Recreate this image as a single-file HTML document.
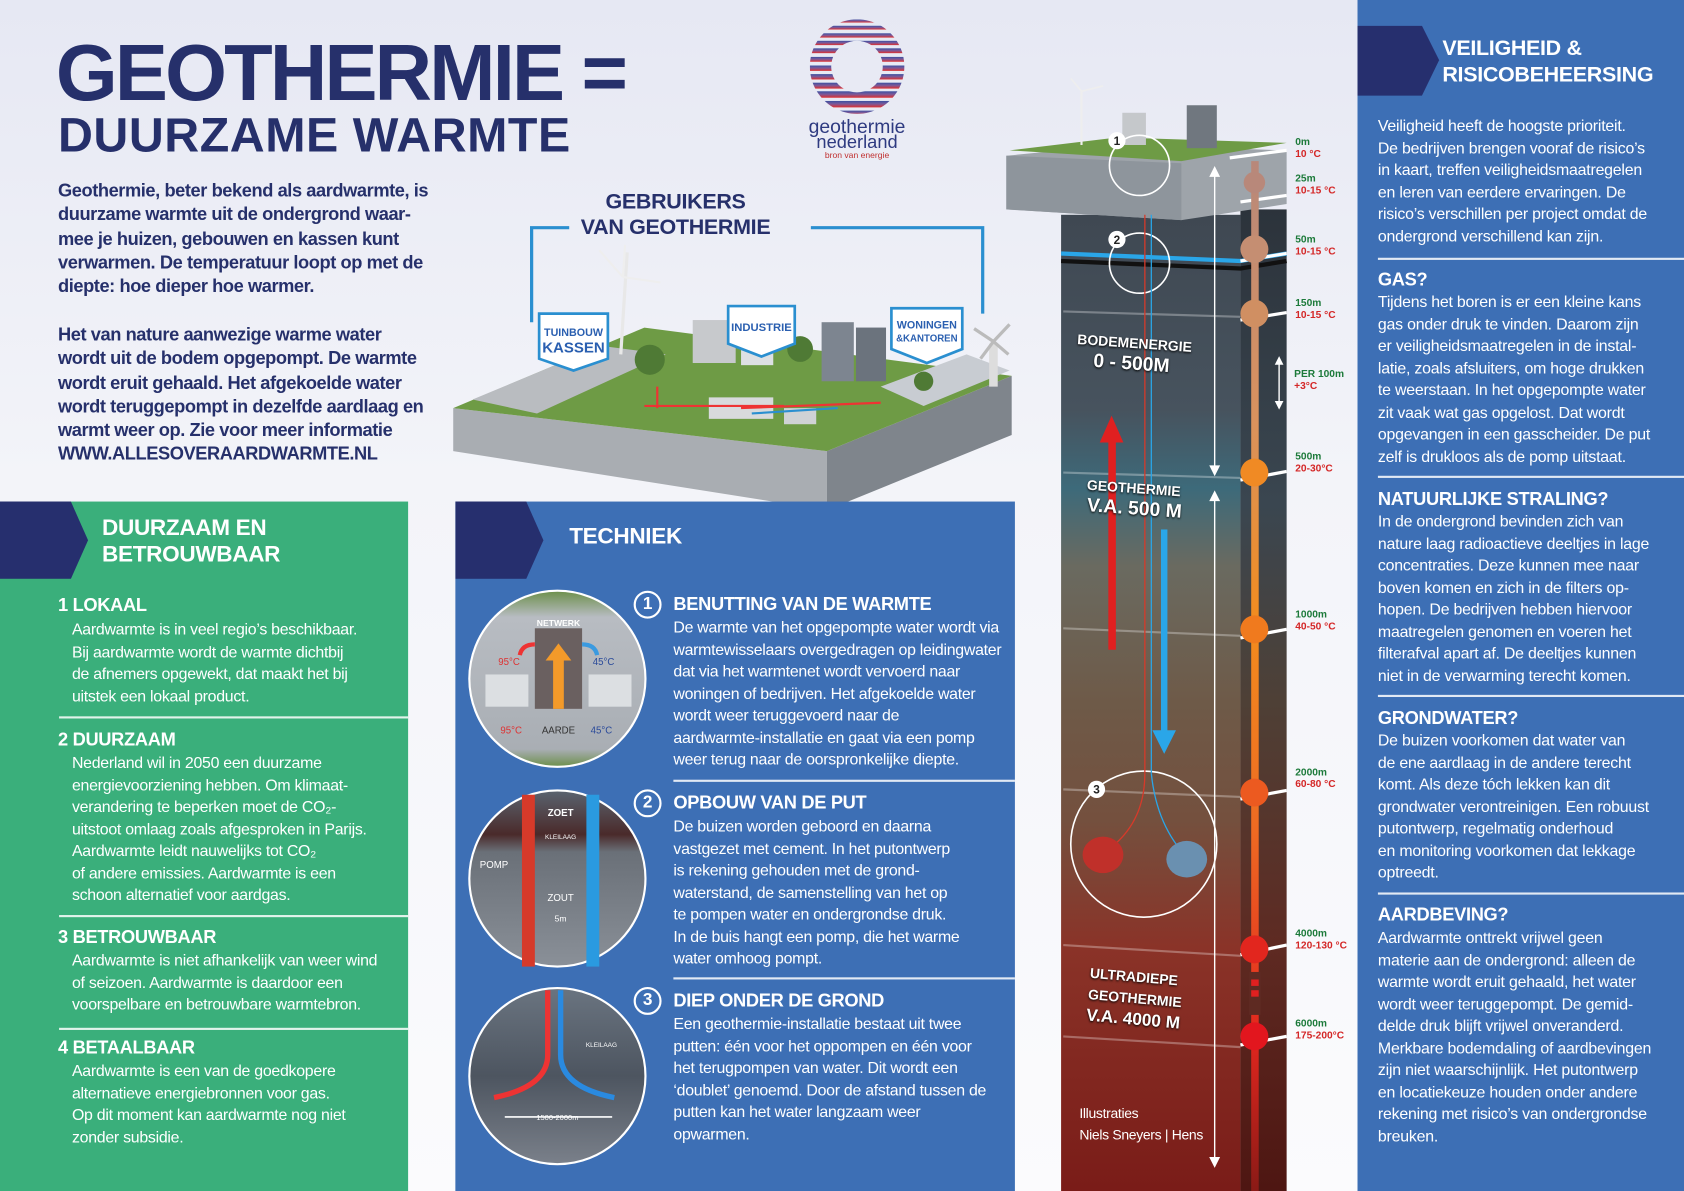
<!DOCTYPE html>
<html><head><meta charset="utf-8">
<style>
*{margin:0;padding:0;box-sizing:border-box}
html,body{width:1684px;height:1191px;overflow:hidden;background:#fff}
#s{position:absolute;left:0;top:0;width:1568px;height:1109px;transform:scale(1.07398);transform-origin:0 0;
background:linear-gradient(180deg,#e6e8f3 0%,#f3f4f9 40%,#fbfbfd 100%);font-family:"Liberation Sans",sans-serif;color:#26306b;overflow:hidden}
.a{position:absolute}
.t{white-space:nowrap}
.b{font-weight:bold}
.intro{font-size:17px;font-weight:bold;line-height:22.3px;letter-spacing:-0.4px;color:#26306b}
.body{font-size:14.8px;line-height:20.5px;letter-spacing:-0.25px;color:#fff;white-space:nowrap}
.h{font-size:17px;font-weight:bold;color:#fff;letter-spacing:-0.3px;white-space:nowrap}
.hr{position:absolute;height:1.5px;background:rgba(255,255,255,.85)}
.num{position:absolute;width:26px;height:26px;border:2px solid #fff;border-radius:50%;color:#fff;font-weight:bold;font-size:16px;text-align:center;line-height:22px}
.dl{position:absolute;font-size:9.5px;font-weight:bold;line-height:11px;white-space:nowrap}
.dl i{font-style:normal;color:#1c7a3a;display:block}
.dl u{text-decoration:none;color:#d42727;display:block}
.lbl{position:absolute;color:#fff;font-weight:bold;text-shadow:0 1px 2px #000;white-space:nowrap}
</style></head><body><div id="s">

<div class="a t b" style="left:52px;top:28px;font-size:74px;letter-spacing:-2.6px;line-height:80px">GEOTHERMIE =</div>
<div class="a t b" style="left:54px;top:102px;font-size:45px;letter-spacing:0.5px;line-height:48px">DUURZAME WARMTE</div>

<svg class="a" style="left:740px;top:12px" width="120" height="140" viewBox="0 0 120 140">
<defs><linearGradient id="lg" x1="0" y1="0" x2="0" y2="1"><stop offset="0" stop-color="#3b4fa0"/><stop offset="0.45" stop-color="#7a5a9a"/><stop offset="1" stop-color="#e0302e"/></linearGradient>
<clipPath id="lc"><path d="M58 6a44 44 0 1 0 0.1 0zM58 26a24 24 0 1 1-0.1 0z" fill-rule="evenodd"/></clipPath></defs>
<g clip-path="url(#lc)" fill="url(#lg)">
<rect x="10" y="6" width="100" height="3"/><rect x="10" y="12" width="100" height="3.5"/><rect x="10" y="19" width="100" height="4"/><rect x="10" y="26" width="100" height="4"/><rect x="10" y="33" width="100" height="4.5"/><rect x="10" y="41" width="100" height="4.5"/><rect x="10" y="49" width="100" height="5"/><rect x="10" y="57" width="100" height="5"/><rect x="10" y="65" width="100" height="5.5"/><rect x="10" y="73" width="100" height="6"/><rect x="10" y="82" width="100" height="6"/><rect x="10" y="91" width="100" height="4"/></g>
<text x="58" y="112" text-anchor="middle" font-size="18" fill="#2e3a80" font-family="Liberation Sans">geothermie</text>
<text x="58" y="126" text-anchor="middle" font-size="17" fill="#2e3a80" font-family="Liberation Sans">nederland</text>
<text x="58" y="135" text-anchor="middle" font-size="8" fill="#c03030" font-family="Liberation Sans">bron van energie</text>
</svg>

<div class="a intro t" style="left:54px;top:167px">Geothermie, beter bekend als aardwarmte, is<br>duurzame warmte uit de ondergrond waar-<br>mee je huizen, gebouwen en kassen kunt<br>verwarmen. De temperatuur loopt op met de<br>diepte: hoe dieper hoe warmer.</div>
<div class="a intro t" style="left:54px;top:301px">Het van nature aanwezige warme water<br>wordt uit de bodem opgepompt. De warmte<br>wordt eruit gehaald. Het afgekoelde water<br>wordt teruggepompt in dezelfde aardlaag en<br>warmt weer op. Zie voor meer informatie<br>WWW.ALLESOVERAARDWARMTE.NL</div>

<div class="a t b" style="left:520px;top:176px;width:218px;text-align:center;font-size:20px;line-height:24px;letter-spacing:-0.3px">GEBRUIKERS<br>VAN GEOTHERMIE</div>
<svg class="a" style="left:410px;top:200px" width="540" height="285" viewBox="410 200 540 285">
<path d="M530 212H495V300" fill="none" stroke="#2a8fd0" stroke-width="3"/>
<path d="M755 212H915V292" fill="none" stroke="#2a8fd0" stroke-width="3"/>
<polygon points="422,380 770,420 770,475 422,420" fill="#a9adb2"/>
<polygon points="770,420 942,350 942,405 770,475" fill="#7f858c"/>
<polygon points="422,380 600,305 942,350 770,420" fill="#6e9b45"/>
<polygon points="440,372 560,322 620,330 500,385" fill="#b9bcc0"/>
<polygon points="820,360 900,330 940,345 860,378" fill="#c8ccd2"/>
<rect x="645" y="298" width="40" height="40" fill="#c7c9cc"/><rect x="690" y="315" width="30" height="25" fill="#dde0e3"/>
<rect x="765" y="300" width="30" height="55" fill="#7d8590"/><rect x="797" y="305" width="28" height="50" fill="#6b737d"/>
<rect x="660" y="370" width="60" height="20" fill="#d8dadc"/><rect x="730" y="380" width="30" height="15" fill="#cfd2d5"/>
<circle cx="605" cy="335" r="14" fill="#4f7a35"/><circle cx="745" cy="325" r="12" fill="#4f7a35"/><circle cx="860" cy="355" r="9" fill="#4f7a35"/>
<line x1="584" y1="235" x2="578" y2="330" stroke="#e8e8e8" stroke-width="3"/>
<path d="M580 258l-22 -25M580 258l35 5M580 258l2 -30" stroke="#eee" stroke-width="2"/>
<line x1="925" y1="320" x2="925" y2="360" stroke="#ddd" stroke-width="8"/>
<path d="M925 318l-18 -12M925 318l15 -16M925 318l14 12M925 318l-12 16" stroke="#bbb" stroke-width="3"/>
<path d="M600 378h130M612 360v20M690 380l130 -5" stroke="#e33" stroke-width="2" fill="none"/>
<path d="M700 385l80 -5" stroke="#2a8fd0" stroke-width="2"/>
<g fill="#fff" stroke="#2a8fd0" stroke-width="2.5">
<path d="M502 292h64v42l-32 11l-32 -11z"/><path d="M678 285h62v35l-31 12l-31 -12z"/><path d="M830 287h66v38l-33 13l-33 -13z"/></g>
<g fill="#2a5fb0" font-family="Liberation Sans" font-weight="bold" text-anchor="middle">
<text x="534" y="313" font-size="10">TUINBOUW</text><text x="534" y="328" font-size="14">KASSEN</text>
<text x="709" y="308" font-size="10.5">INDUSTRIE</text>
<text x="863" y="306" font-size="10">WONINGEN</text><text x="863" y="318" font-size="9">&amp;KANTOREN</text></g>
</svg>

<div class="a" style="left:0;top:467px;width:380px;height:642px;background:#3aaf7b"></div>
<svg class="a" style="left:0;top:467px" width="90" height="72"><polygon points="0,0 66,0 82,36 66,72 0,72" fill="#262f6e"/></svg>
<div class="a h" style="left:95px;top:479px;font-size:21px;line-height:25px">DUURZAAM EN<br>BETROUWBAAR</div>
<div class="a h" style="left:54px;top:554px">1 LOKAAL</div>
<div class="a body" style="left:67px;top:577px">Aardwarmte is in veel regio’s beschikbaar.<br>Bij aardwarmte wordt de warmte dichtbij<br>de afnemers opgewekt, dat maakt het bij<br>uitstek een lokaal product.</div>
<div class="hr" style="left:55px;top:667px;width:325px"></div>
<div class="a h" style="left:54px;top:679px">2 DUURZAAM</div>
<div class="a body" style="left:67px;top:701px">Nederland wil in 2050 een duurzame<br>energievoorziening hebben. Om klimaat-<br>verandering te beperken moet de CO₂-<br>uitstoot omlaag zoals afgesproken in Parijs.<br>Aardwarmte leidt nauwelijks tot CO₂<br>of andere emissies. Aardwarmte is een<br>schoon alternatief voor aardgas.</div>
<div class="hr" style="left:55px;top:852px;width:325px"></div>
<div class="a h" style="left:54px;top:863px">3 BETROUWBAAR</div>
<div class="a body" style="left:67px;top:885px">Aardwarmte is niet afhankelijk van weer wind<br>of seizoen. Aardwarmte is daardoor een<br>voorspelbare en betrouwbare warmtebron.</div>
<div class="hr" style="left:55px;top:957px;width:325px"></div>
<div class="a h" style="left:54px;top:966px">4 BETAALBAAR</div>
<div class="a body" style="left:67px;top:988px">Aardwarmte is een van de goedkopere<br>alternatieve energiebronnen voor gas.<br>Op dit moment kan aardwarmte nog niet<br>zonder subsidie.</div>

<div class="a" style="left:424px;top:467px;width:521px;height:642px;background:#3d6fb5"></div>
<svg class="a" style="left:424px;top:467px" width="90" height="72"><polygon points="0,0 66,0 82,36 66,72 0,72" fill="#262f6e"/></svg>
<div class="a h" style="left:530px;top:488px;font-size:21px">TECHNIEK</div>

<svg class="a" style="left:430px;top:545px" width="180" height="550" viewBox="430 545 180 550">
<defs>
<linearGradient id="c1" x1="0" y1="0" x2="0" y2="1"><stop offset="0" stop-color="#6c8f4a"/><stop offset=".15" stop-color="#b8bcc2"/><stop offset=".9" stop-color="#a9aeb4"/><stop offset="1" stop-color="#6c8f4a"/></linearGradient>
<linearGradient id="c2" x1="0" y1="0" x2="0" y2="1"><stop offset="0" stop-color="#5a6470"/><stop offset=".25" stop-color="#4a2a2a"/><stop offset=".35" stop-color="#6a7078"/><stop offset="1" stop-color="#8a9098"/></linearGradient>
<linearGradient id="c3" x1="0" y1="0" x2="0" y2="1"><stop offset="0" stop-color="#6a7480"/><stop offset=".5" stop-color="#4d5560"/><stop offset="1" stop-color="#7a808a"/></linearGradient>
</defs>
<circle cx="519" cy="632" r="82" fill="url(#c1)" stroke="#fff" stroke-width="2"/>
<rect x="498" y="585" width="44" height="75" fill="#6a6060"/>
<path d="M520 660v-50" stroke="#f39a2a" stroke-width="10"/><path d="M508 615l12-16 12 16z" fill="#f39a2a"/>
<path d="M498 600q-12 0-14 10" stroke="#e33" stroke-width="4" fill="none"/><path d="M542 600q12 0 14 10" stroke="#3a9ae0" stroke-width="4" fill="none"/>
<rect x="452" y="628" width="40" height="30" fill="#dcdfe2"/><rect x="548" y="628" width="40" height="30" fill="#dcdfe2"/>
<text x="520" y="583" font-size="8" fill="#fff" text-anchor="middle" font-weight="bold" font-family="Liberation Sans">NETWERK</text>
<text x="474" y="619" font-size="9" fill="#d33" text-anchor="middle" font-family="Liberation Sans">95°C</text>
<text x="562" y="619" font-size="9" fill="#2a4a9a" text-anchor="middle" font-family="Liberation Sans">45°C</text>
<text x="476" y="683" font-size="9" fill="#d33" text-anchor="middle" font-family="Liberation Sans">95°C</text>
<text x="520" y="683" font-size="9" fill="#333" text-anchor="middle" font-family="Liberation Sans">AARDE</text>
<text x="560" y="683" font-size="9" fill="#2a4a9a" text-anchor="middle" font-family="Liberation Sans">45°C</text>
<circle cx="519" cy="818" r="82" fill="url(#c2)" stroke="#fff" stroke-width="2"/>
<rect x="486" y="740" width="12" height="160" fill="#d63a2a"/><rect x="546" y="740" width="12" height="160" fill="#2a9ae0"/>
<text x="522" y="760" font-size="9" fill="#fff" text-anchor="middle" font-weight="bold" font-family="Liberation Sans">ZOET</text>
<text x="522" y="781" font-size="6" fill="#fff" text-anchor="middle" font-family="Liberation Sans">KLEILAAG</text>
<text x="460" y="808" font-size="9" fill="#fff" text-anchor="middle" font-family="Liberation Sans">POMP</text>
<text x="522" y="839" font-size="9" fill="#fff" text-anchor="middle" font-family="Liberation Sans">ZOUT</text>
<text x="522" y="858" font-size="8" fill="#fff" text-anchor="middle" font-family="Liberation Sans">5m</text>
<circle cx="519" cy="1002" r="82" fill="url(#c3)" stroke="#fff" stroke-width="2"/>
<path d="M510 922v60q0 30-50 40" stroke="#e33" stroke-width="5" fill="none"/>
<path d="M522 922v60q0 30 50 40" stroke="#2a8ae0" stroke-width="5" fill="none"/>
<path d="M470 1040h100" stroke="#fff" stroke-width="1.5"/>
<text x="519" y="1043" font-size="7" fill="#fff" text-anchor="middle" font-family="Liberation Sans">1500-2000m</text>
<text x="560" y="975" font-size="6" fill="#fff" text-anchor="middle" font-family="Liberation Sans">KLEILAAG</text>
</svg>

<div class="num" style="left:590px;top:550px">1</div>
<div class="a h" style="left:627px;top:553px">BENUTTING VAN DE WARMTE</div>
<div class="a body" style="left:627px;top:575px">De warmte van het opgepompte water wordt via<br>warmtewisselaars overgedragen op leidingwater<br>dat via het warmtenet wordt vervoerd naar<br>woningen of bedrijven. Het afgekoelde water<br>wordt weer teruggevoerd naar de<br>aardwarmte-installatie en gaat via een pomp<br>weer terug naar de oorspronkelijke diepte.</div>
<div class="hr" style="left:627px;top:726px;width:318px"></div>
<div class="num" style="left:590px;top:735px">2</div>
<div class="a h" style="left:627px;top:738px">OPBOUW VAN DE PUT</div>
<div class="a body" style="left:627px;top:760px">De buizen worden geboord en daarna<br>vastgezet met cement. In het putontwerp<br>is rekening gehouden met de grond-<br>waterstand, de samenstelling van het op<br>te pompen water en ondergrondse druk.<br>In de buis hangt een pomp, die het warme<br>water omhoog pompt.</div>
<div class="hr" style="left:627px;top:910px;width:318px"></div>
<div class="num" style="left:590px;top:919px">3</div>
<div class="a h" style="left:627px;top:922px">DIEP ONDER DE GROND</div>
<div class="a body" style="left:627px;top:944px">Een geothermie-installatie bestaat uit twee<br>putten: één voor het oppompen en één voor<br>het terugpompen van water. Dit wordt een<br>‘doublet’ genoemd. Door de afstand tussen de<br>putten kan het water langzaam weer<br>opwarmen.</div>

<svg class="a" style="left:930px;top:60px" width="340" height="1049" viewBox="930 60 340 1049">
<defs>
<linearGradient id="fr" x1="0" y1="0" x2="0" y2="1">
<stop offset="0" stop-color="#3f4852"/><stop offset=".2" stop-color="#47535e"/><stop offset=".28" stop-color="#3d6a7a"/><stop offset=".36" stop-color="#6a6a60"/><stop offset=".5" stop-color="#6e5a48"/><stop offset=".62" stop-color="#74503e"/><stop offset=".75" stop-color="#8a3328"/><stop offset="1" stop-color="#7a1c18"/></linearGradient>
<linearGradient id="sd" x1="0" y1="0" x2="0" y2="1">
<stop offset="0" stop-color="#2c333b"/><stop offset=".3" stop-color="#3a4650"/><stop offset=".5" stop-color="#4e4036"/><stop offset=".75" stop-color="#5e2a22"/><stop offset="1" stop-color="#4e1612"/></linearGradient>
<linearGradient id="th" x1="0" y1="0" x2="0" y2="1">
<stop offset="0" stop-color="#b8887a"/><stop offset=".25" stop-color="#d9925e"/><stop offset=".45" stop-color="#f28c1e"/><stop offset=".65" stop-color="#ee6a22"/><stop offset=".85" stop-color="#e2261e"/><stop offset="1" stop-color="#8a1a16"/></linearGradient>
</defs>
<rect x="988" y="200" width="167" height="909" fill="url(#fr)"/>
<rect x="1155" y="195" width="43" height="914" fill="url(#sd)"/>
<path d="M988 236L1155 243L1198 236" stroke="#2aa6e8" stroke-width="4" fill="none"/>
<path d="M988 243L1155 250L1198 243" stroke="#111" stroke-width="4" fill="none"/>
<g stroke="rgba(255,255,255,.3)" stroke-width="2"><path d="M990 290L1155 295"/><path d="M990 440L1155 445"/><path d="M990 585L1155 592"/><path d="M990 735L1155 742"/><path d="M990 880L1155 890"/><path d="M990 965L1155 975"/></g>
<polygon points="937,145 1040,135 1198,140 1198,190 1100,205 937,195" fill="#9ea4aa"/>
<polygon points="937,145 1100,152 1100,205 937,195" fill="#8e959c"/>
<polygon points="940,140 1040,128 1198,133 1100,150" fill="#6e9b45"/>
<rect x="1105" y="98" width="28" height="40" fill="#70777f"/><rect x="1045" y="105" width="22" height="30" fill="#c5c8cb"/>
<line x1="1007" y1="85" x2="1007" y2="135" stroke="#eee" stroke-width="2"/><path d="M1007 85l-10-12M1007 85l20-5M1007 85l0 18" stroke="#eee" stroke-width="1.5"/>
<circle cx="1061" cy="154" r="28" fill="none" stroke="#fff" stroke-width="1.5"/>
<circle cx="1061" cy="245" r="28" fill="none" stroke="#fff" stroke-width="1.5"/>
<circle cx="1065" cy="786" r="68" fill="none" stroke="#fff" stroke-width="1.5"/>
<circle cx="1040" cy="131" r="8" fill="#fff"/><text x="1040" y="135" font-size="11" font-weight="bold" text-anchor="middle" fill="#222" font-family="Liberation Sans">1</text>
<circle cx="1040" cy="223" r="8" fill="#fff"/><text x="1040" y="227" font-size="11" font-weight="bold" text-anchor="middle" fill="#222" font-family="Liberation Sans">2</text>
<circle cx="1021" cy="735" r="8" fill="#fff"/><text x="1021" y="739" font-size="11" font-weight="bold" text-anchor="middle" fill="#222" font-family="Liberation Sans">3</text>
<line x1="1066" y1="200" x2="1066" y2="720" stroke="#d63a2a" stroke-width="1.2"/>
<line x1="1072" y1="200" x2="1072" y2="720" stroke="#2aa6e8" stroke-width="1.2"/>
<path d="M1066 720q0 50-40 75" stroke="#d63a2a" stroke-width="1.2" fill="none"/>
<path d="M1072 720q5 50 35 80" stroke="#2aa6e8" stroke-width="1.2" fill="none"/>
<ellipse cx="1027" cy="796" rx="19" ry="17" fill="#c0302a"/><ellipse cx="1105" cy="800" rx="19" ry="17" fill="#6a90b0"/>
<rect x="1032" y="410" width="7" height="195" fill="#e02020"/><path d="M1024 412l11-25 11 25z" fill="#e02020"/>
<rect x="1081" y="493" width="6" height="190" fill="#2aa6e8"/><path d="M1073 680l11 22 11-22z" fill="#2aa6e8"/>
<g stroke="#fff" stroke-width="1.3" fill="#fff"><line x1="1131" y1="160" x2="1131" y2="438"/><path d="M1127 164l4-8 4 8z"/><path d="M1127 434l4 8 4-8z"/>
<line x1="1131" y1="462" x2="1131" y2="1082"/><path d="M1127 466l4-8 4 8z"/><path d="M1127 1078l4 8 4-8z"/>
<line x1="1191" y1="335" x2="1191" y2="378"/><path d="M1188 339l3-6 3 6z"/><path d="M1188 374l3 6 3-6z"/></g>
<g stroke="#fff" stroke-width="3"><path d="M1145 147L1198 140"/><path d="M1155 188L1198 182"/><path d="M1155 243L1198 236"/><path d="M1155 298L1198 291"/><path d="M1155 447L1198 439"/><path d="M1155 594L1198 586"/><path d="M1155 744L1198 736"/><path d="M1155 889L1198 880"/><path d="M1155 973L1198 965"/></g>
<rect x="1165" y="150" width="7" height="959" fill="url(#th)"/>
<rect x="1163" y="905" width="11" height="40" fill="#5e2a22"/>
<rect x="1165" y="912" width="7" height="6" fill="#e02020"/><rect x="1165" y="922" width="7" height="6" fill="#e02020"/>
<g><circle cx="1168" cy="170" r="10" fill="#b8887a"/><circle cx="1168" cy="232" r="13" fill="#c58e72"/><circle cx="1168" cy="292" r="13" fill="#d08f62"/><circle cx="1168" cy="440" r="13" fill="#f08a24"/><circle cx="1168" cy="586" r="13" fill="#f07a1e"/><circle cx="1168" cy="738" r="13" fill="#ec5a20"/><circle cx="1168" cy="884" r="13" fill="#e2261e"/><circle cx="1168" cy="965" r="13" fill="#e2161e"/></g>
</svg>
<div class="lbl" style="left:1003px;top:312px;font-size:13px;transform:rotate(4deg)">BODEMENERGIE</div>
<div class="lbl" style="left:1018px;top:328px;font-size:18px;transform:rotate(4deg)">0 - 500M</div>
<div class="lbl" style="left:1012px;top:447px;font-size:13px;transform:rotate(4deg)">GEOTHERMIE</div>
<div class="lbl" style="left:1012px;top:463px;font-size:18px;transform:rotate(4deg)">V.A. 500 M</div>
<div class="lbl" style="left:1013px;top:900px;font-size:13px;line-height:20px;transform:rotate(5deg)">ULTRADIEPE<br>GEOTHERMIE<br><span style="font-size:16px">V.A. 4000 M</span></div>
<div class="a t" style="left:1005px;top:1027px;font-size:13px;color:#fff;line-height:20px;letter-spacing:-0.3px">Illustraties<br>Niels Sneyers | Hens</div>

<div class="dl" style="left:1206px;top:127px"><i>0m</i><u>10 °C</u></div>
<div class="dl" style="left:1206px;top:161px"><i>25m</i><u>10-15 °C</u></div>
<div class="dl" style="left:1206px;top:218px"><i>50m</i><u>10-15 °C</u></div>
<div class="dl" style="left:1206px;top:277px"><i>150m</i><u>10-15 °C</u></div>
<div class="dl" style="left:1205px;top:343px"><i>PER 100m</i><u>+3°C</u></div>
<div class="dl" style="left:1206px;top:420px"><i>500m</i><u>20-30°C</u></div>
<div class="dl" style="left:1206px;top:567px"><i>1000m</i><u>40-50 °C</u></div>
<div class="dl" style="left:1206px;top:714px"><i>2000m</i><u>60-80 °C</u></div>
<div class="dl" style="left:1206px;top:864px"><i>4000m</i><u>120-130 °C</u></div>
<div class="dl" style="left:1206px;top:948px"><i>6000m</i><u>175-200°C</u></div>

<div class="a" style="left:1264px;top:0;width:304px;height:1109px;background:#3d6fb5"></div>
<svg class="a" style="left:1264px;top:24px" width="80" height="72"><polygon points="0,0 60,0 76,32 60,65 0,65" fill="#262f6e"/></svg>
<div class="a h" style="left:1343px;top:33px;font-size:20px;line-height:25px">VEILIGHEID &amp;<br>RISICOBEHEERSING</div>
<div class="a body" style="left:1283px;top:108px;letter-spacing:-0.2px">Veiligheid heeft de hoogste prioriteit.<br>De bedrijven brengen vooraf de risico’s<br>in kaart, treffen veiligheidsmaatregelen<br>en leren van eerdere ervaringen. De<br>risico’s verschillen per project omdat de<br>ondergrond verschillend  kan zijn.</div>
<div class="hr" style="left:1283px;top:240px;width:285px"></div>
<div class="a h" style="left:1283px;top:251px">GAS?</div>
<div class="a body" style="left:1283px;top:272px;letter-spacing:-0.2px">Tijdens het boren is er een kleine kans<br>gas onder druk te vinden. Daarom zijn<br>er veiligheidsmaatregelen in de instal-<br>latie, zoals afsluiters, om hoge drukken<br>te weerstaan. In het opgepompte water<br>zit vaak wat gas opgelost. Dat wordt<br>opgevangen in een gasscheider. De put<br>zelf is drukloos als de pomp uitstaat.</div>
<div class="hr" style="left:1283px;top:443px;width:285px"></div>
<div class="a h" style="left:1283px;top:455px">NATUURLIJKE STRALING?</div>
<div class="a body" style="left:1283px;top:476px;letter-spacing:-0.2px">In de ondergrond bevinden zich van<br>nature laag radioactieve deeltjes in lage<br>concentraties. Deze kunnen mee naar<br>boven komen en zich in de filters op-<br>hopen. De bedrijven hebben hiervoor<br>maatregelen genomen en voeren het<br>filterafval apart af. De deeltjes kunnen<br>niet in de verwarming terecht komen.</div>
<div class="hr" style="left:1283px;top:647px;width:285px"></div>
<div class="a h" style="left:1283px;top:659px">GRONDWATER?</div>
<div class="a body" style="left:1283px;top:680px;letter-spacing:-0.2px">De buizen voorkomen dat water van<br>de ene aardlaag in de andere terecht<br>komt. Als deze tóch lekken kan dit<br>grondwater verontreinigen. Een robuust<br>putontwerp, regelmatig onderhoud<br>en monitoring voorkomen dat lekkage<br>optreedt.</div>
<div class="hr" style="left:1283px;top:831px;width:285px"></div>
<div class="a h" style="left:1283px;top:842px">AARDBEVING?</div>
<div class="a body" style="left:1283px;top:864px;letter-spacing:-0.2px">Aardwarmte onttrekt vrijwel geen<br>materie aan de ondergrond: alleen de<br>warmte wordt eruit gehaald, het water<br>wordt weer teruggepompt. De gemid-<br>delde druk blijft vrijwel onveranderd.<br>Merkbare bodemdaling of aardbevingen<br>zijn niet waarschijnlijk. Het putontwerp<br>en locatiekeuze houden onder andere<br>rekening met risico’s van ondergrondse<br>breuken.</div>

</div></body></html>
